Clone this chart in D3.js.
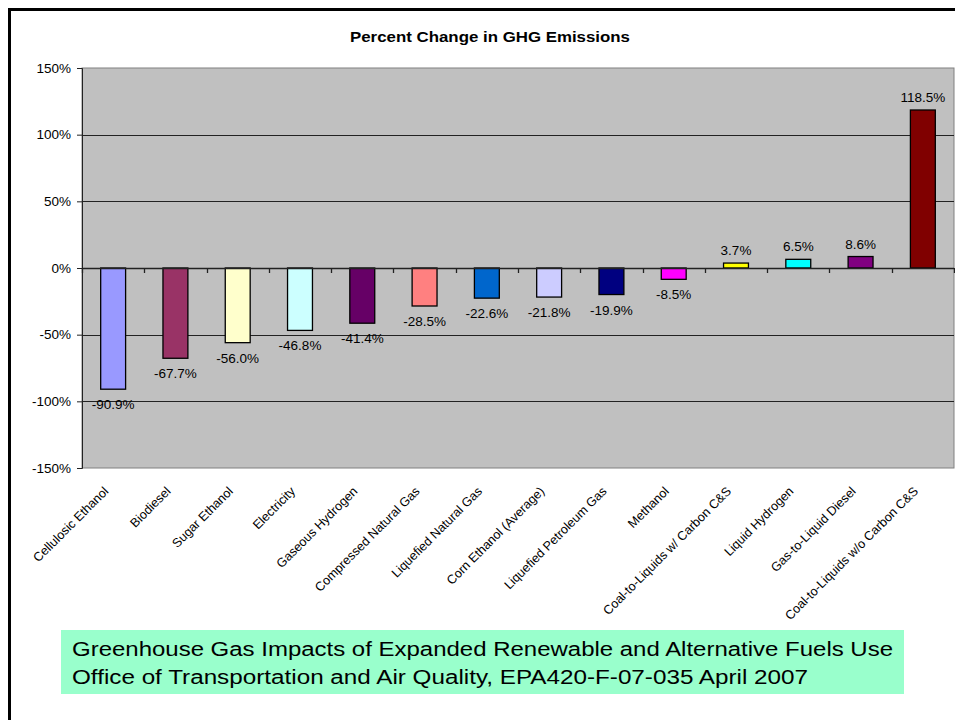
<!DOCTYPE html>
<html>
<head>
<meta charset="utf-8">
<script src="https://cdn.jsdelivr.net/npm/d3@7"></script>
<style>
  html, body { margin: 0; padding: 0; background: #fff; }
  svg { display: block; font-family: "Liberation Sans", Arial, sans-serif; }
</style>
</head>
<body>
<svg id="chart" width="955" height="720"></svg>
<script>
// Fuels compared, their percent change in GHG emissions, and bar fills
const categories = [
  "Cellulosic Ethanol", "Biodiesel", "Sugar Ethanol", "Electricity",
  "Gaseous Hydrogen", "Compressed Natural Gas", "Liquefied Natural Gas",
  "Corn Ethanol (Average)", "Liquefied Petroleum Gas", "Methanol",
  "Coal-to-Liquids w/ Carbon C&S", "Liquid Hydrogen", "Gas-to-Liquid Diesel",
  "Coal-to-Liquids w/o Carbon C&S"
];
const values = [-90.9, -67.7, -56.0, -46.8, -41.4, -28.5, -22.6, -21.8, -19.9, -8.5, 3.7, 6.5, 8.6, 118.5];
const colors = [
  "#9999ff", "#993366", "#ffffcc", "#ccffff", "#660066", "#ff8080", "#0066cc",
  "#ccccff", "#000080", "#ff00ff", "#ffff00", "#00ffff", "#800080", "#800000"
];
const yTicks = [-150, -100, -50, 0, 50, 100, 150];
const titleText = "Percent Change in GHG Emissions";
const sourceLines = [
  "Greenhouse Gas Impacts of Expanded Renewable and Alternative Fuels Use",
  "Office of Transportation and Air Quality, EPA420-F-07-035 April 2007"
];

const svg = d3.select("#chart");
const plot = { left: 82, right: 954, top: 68, bottom: 468 };

// page frame (left and top edges)
svg.append("line").attr("x1", 9.5).attr("x2", 955).attr("y1", 9.5).attr("y2", 9.5)
  .attr("stroke", "#000").attr("stroke-width", 3);
svg.append("line").attr("x1", 9.5).attr("x2", 9.5).attr("y1", 8).attr("y2", 720)
  .attr("stroke", "#000").attr("stroke-width", 3);

const x = d3.scaleBand().domain(categories).range([plot.left, plot.right])
  .paddingInner(0.6).paddingOuter(0.3);
const y = d3.scaleLinear().domain([-150, 150]).range([plot.bottom, plot.top]);

// plot background
svg.append("rect")
  .attr("x", plot.left).attr("y", plot.top)
  .attr("width", plot.right - plot.left).attr("height", plot.bottom - plot.top)
  .attr("fill", "#c0c0c0").attr("stroke", "#808080").attr("stroke-width", 1);

// horizontal gridlines
svg.append("g").selectAll("line")
  .data(yTicks.filter(t => t !== -150 && t !== 150))
  .join("line")
  .attr("x1", plot.left).attr("x2", plot.right)
  .attr("y1", d => Math.round(y(d)) + 0.5).attr("y2", d => Math.round(y(d)) + 0.5)
  .attr("stroke", "#222").attr("stroke-width", 1);

// value axis
const yAxis = svg.append("g")
  .attr("transform", `translate(${plot.left},0)`)
  .call(d3.axisLeft(y).tickValues(yTicks).tickSize(5).tickPadding(6)
    .tickFormat(d => d + "%"));
yAxis.select(".domain").attr("stroke", "#222");
yAxis.selectAll(".tick line").attr("stroke", "#222");
yAxis.selectAll("text").attr("font-size", 13.5).attr("fill", "#000")
  .attr("font-family", "Liberation Sans, Arial, sans-serif");

// bars
svg.append("g").selectAll("rect")
  .data(values)
  .join("rect")
  .attr("x", (d, i) => x(categories[i]))
  .attr("width", x.bandwidth())
  .attr("y", d => y(Math.max(0, d)))
  .attr("height", d => Math.abs(y(d) - y(0)))
  .attr("fill", (d, i) => colors[i])
  .attr("stroke", "#000").attr("stroke-width", 1.3);

// category axis along zero with ticks at category boundaries
const step = x.step();
const boundaries = d3.range(categories.length + 1).map(i => plot.left + i * step);
svg.append("line")
  .attr("x1", plot.left).attr("x2", plot.right)
  .attr("y1", Math.round(y(0)) + 0.5).attr("y2", Math.round(y(0)) + 0.5)
  .attr("stroke", "#222").attr("stroke-width", 1.3);
svg.append("g").selectAll("line")
  .data(boundaries)
  .join("line")
  .attr("x1", d => Math.round(d) + 0.5).attr("x2", d => Math.round(d) + 0.5)
  .attr("y1", y(0)).attr("y2", y(0) + 5)
  .attr("stroke", "#222").attr("stroke-width", 1.3);

// value labels
svg.append("g").selectAll("text")
  .data(values)
  .join("text")
  .attr("x", (d, i) => x(categories[i]) + x.bandwidth() / 2)
  .attr("y", d => d < 0 ? y(d) + 20 : y(d) - 8)
  .attr("text-anchor", "middle")
  .attr("font-size", 13.5).attr("fill", "#000")
  .text(d => d.toFixed(1) + "%");

// rotated category labels
svg.append("g").selectAll("text")
  .data(categories)
  .join("text")
  .attr("transform", d => `translate(${x(d) + x.bandwidth() / 2 - 4},${plot.bottom + 24}) rotate(-45)`)
  .attr("text-anchor", "end")
  .attr("font-size", 12.6).attr("fill", "#000")
  .text(d => d);

// title
svg.append("text")
  .attr("x", 490).attr("y", 42)
  .attr("text-anchor", "middle")
  .attr("font-size", 15.5).attr("font-weight", "bold").attr("fill", "#000")
  .attr("textLength", 280).attr("lengthAdjust", "spacingAndGlyphs")
  .text(titleText);

// source note box
svg.append("rect")
  .attr("x", 61).attr("y", 630).attr("width", 843).attr("height", 64)
  .attr("fill", "#99ffcc");
const sourceWidths = [821, 736];
svg.append("g").selectAll("text")
  .data(sourceLines)
  .join("text")
  .attr("x", 72).attr("y", (d, i) => 656 + i * 27.5)
  .attr("font-size", 20).attr("fill", "#000")
  .attr("textLength", (d, i) => sourceWidths[i]).attr("lengthAdjust", "spacingAndGlyphs")
  .text(d => d);
</script>
</body>
</html>
